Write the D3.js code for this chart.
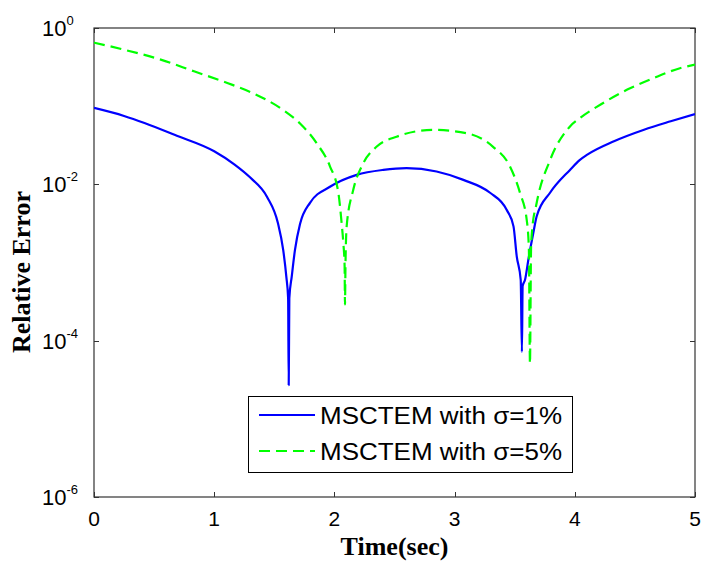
<!DOCTYPE html>
<html><head><meta charset="utf-8">
<script src="https://cdn.jsdelivr.net/npm/d3@7"></script>
<style>body{margin:0;background:#fff}</style>
</head><body><svg id="c" width="702" height="563"></svg>
<script>
// Data
const blueT = [0,0.25,0.42,0.67,1.0,1.17,1.30,1.44,1.53,1.574,1.60,1.615,1.62,1.625,1.645,1.672,1.714,1.797,1.963,2.185,2.407,2.60,2.85,3.073,3.295,3.434,3.49,3.517,3.55,3.56,3.566,3.586,3.613,3.655,3.683,3.794,3.96,4.04,4.104,4.326,4.576,4.798,5.0];
const blueV = [0.095,0.075,0.061,0.043,0.0265,0.0179,0.0122,0.0069,0.0032,0.00145,0.00066,0.00035,0.000027,0.00035,0.00066,0.00145,0.0031,0.0058,0.0093,0.0132,0.0153,0.0161,0.0146,0.0114,0.0078,0.0047,0.0029,0.0012,0.0006,0.000072,0.0005,0.0006,0.00107,0.0024,0.0039,0.0078,0.0153,0.0204,0.024,0.0356,0.050,0.064,0.079];
const greenT = [0,0.25,0.555,0.832,1.109,1.325,1.575,1.714,1.853,1.963,2.033,2.06,2.074,2.085,2.088,2.092,2.102,2.157,2.24,2.35,2.517,2.823,3.10,3.32,3.46,3.544,3.60,3.618,3.627,3.636,3.645,3.683,3.794,3.96,4.04,4.215,4.437,4.659,4.881,5.0];
const greenV = [0.65,0.528,0.394,0.279,0.198,0.146,0.089,0.060,0.0335,0.017,0.0078,0.0032,0.0018,0.0009,0.00029,0.0009,0.0029,0.0085,0.0186,0.0302,0.0407,0.0497,0.045,0.0302,0.017,0.0078,0.0035,0.0015,0.000051,0.0015,0.0026,0.0058,0.0204,0.055,0.070,0.105,0.163,0.23,0.308,0.34];
const xTicks = [0,1,2,3,4,5];
const yTicks = [1,1e-2,1e-4,1e-6];
const yTickExp = ["0","-2","-4","-6"];
const seriesNames = ["MSCTEM with σ=1%","MSCTEM with σ=5%"];
const xLabel = "Time(sec)";
const yLabel = "Relative Error";

const svg = d3.select("#c");
const L=94,R=695,T=28,B=497;
const x = d3.scaleLinear().domain([0,5]).range([L,R]);
const y = d3.scaleLog().domain([1e-6,1]).range([B,T]);
const axisCol = "#333";

svg.append("defs").append("clipPath").attr("id","clip")
  .append("rect").attr("x",L).attr("y",T).attr("width",R-L).attr("height",B-T);

// frame
svg.append("rect").attr("x",L).attr("y",T).attr("width",R-L).attr("height",B-T)
  .attr("fill","none").attr("stroke",axisCol).attr("stroke-width",1.2);

// ticks
const tl=5;
xTicks.forEach(v=>{
  const px=Math.round(x(v))+0.5;
  svg.append("line").attr("x1",px).attr("x2",px).attr("y1",B).attr("y2",B-tl).attr("stroke",axisCol);
  svg.append("line").attr("x1",px).attr("x2",px).attr("y1",T).attr("y2",T+tl).attr("stroke",axisCol);
  svg.append("text").attr("x",x(v)).attr("y",B+29).attr("text-anchor","middle")
    .attr("font-family","Liberation Sans, Arial").attr("font-size",21).text(v);
});
yTicks.forEach((v,i)=>{
  const py=Math.round(y(v))+0.5;
  svg.append("line").attr("x1",L).attr("x2",L+tl).attr("y1",py).attr("y2",py).attr("stroke",axisCol);
  svg.append("line").attr("x1",R).attr("x2",R-tl).attr("y1",py).attr("y2",py).attr("stroke",axisCol);
  const t=svg.append("text").attr("x",42).attr("y",y(v)+8)
    .attr("font-family","Liberation Sans, Arial").attr("font-size",22);
  t.append("tspan").text("10");
  t.append("tspan").attr("font-size",13).attr("dy",-11).text(yTickExp[i]);
});

const line = d3.line().x(d=>x(d[0])).y(d=>y(d[1])).curve(d3.curveMonotoneX);
const g = svg.append("g").attr("clip-path","url(#clip)");
g.append("path").datum(blueT.map((t,i)=>[t,blueV[i]])).attr("d",line)
  .attr("fill","none").attr("stroke","#0000ff").attr("stroke-width",2.2).attr("stroke-linejoin","round");
g.append("path").datum(greenT.map((t,i)=>[t,greenV[i]])).attr("d",line)
  .attr("fill","none").attr("stroke","#00ff00").attr("stroke-width",2.2).attr("stroke-dasharray","11,6");

// axis labels
svg.append("text").attr("x",(L+R)/2).attr("y",555).attr("text-anchor","middle")
  .attr("font-family","Liberation Serif, Times New Roman").attr("font-weight","bold").attr("font-size",26).text(xLabel);
svg.append("text").attr("transform","translate(30,272) rotate(-90)").attr("text-anchor","middle")
  .attr("font-family","Liberation Serif, Times New Roman").attr("font-weight","bold").attr("font-size",26).text(yLabel);

// legend
const lg = svg.append("g");
lg.append("rect").attr("x",248.5).attr("y",396.5).attr("width",324).attr("height",76)
  .attr("fill","#fff").attr("stroke","#000").attr("stroke-width",1);
const cols=["#0000ff","#00ff00"], dash=[null,"11,6"];
seriesNames.forEach((n,i)=>{
  const yy = 415 + i*36;
  lg.append("line").attr("x1",259).attr("x2",315).attr("y1",yy).attr("y2",yy)
    .attr("stroke",cols[i]).attr("stroke-width",2.2).attr("stroke-dasharray",dash[i]);
  lg.append("text").attr("x",320).attr("y",yy+8.5).attr("font-family","Liberation Sans, Arial")
    .attr("font-size",23).attr("textLength",242).attr("lengthAdjust","spacingAndGlyphs").text(n);
});
</script></body></html>
